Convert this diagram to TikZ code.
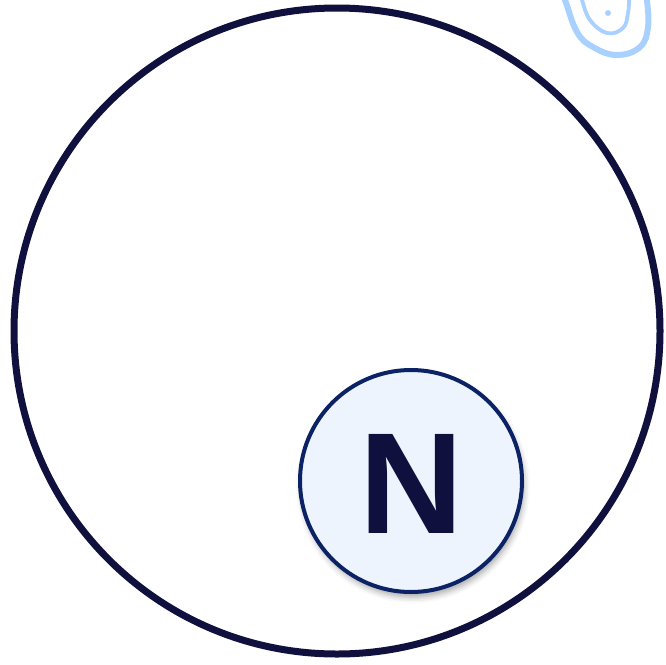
\documentclass[tikz,border=0pt]{standalone}
\usepackage{fontspec}
\setmainfont{Liberation Sans}
\usetikzlibrary{shadows.blur}
\definecolor{navy}{HTML}{10103F}
\definecolor{ringblue}{HTML}{0B2365}
\definecolor{paleblue}{HTML}{EDF4FD}
\definecolor{loopblue}{HTML}{A9D1FF}
\tikzset{
  bigring/.style={draw=navy, line width=7pt, circle, minimum size=646pt, inner sep=0pt},
  nbadge/.style={draw=ringblue, line width=4pt, fill=paleblue, circle, minimum size=222pt, inner sep=0pt,
    blur shadow={shadow xshift=2pt, shadow yshift=-5pt, shadow blur radius=6pt, shadow opacity=35}},
  loopline/.style={draw=loopblue, line cap=round}
}
\begin{document}
\begin{tikzpicture}[x=1pt, y=-1pt]
\useasboundingbox (0,0) rectangle (666,664);
\node[bigring] (outer) at (337,331) {};
\node[nbadge] (badge) at (411,481) {};
\node[text=navy, font=\fontsize{144}{144}\selectfont\bfseries, inner sep=0pt, anchor=center] (letter) at (411,483.5) {N};
\draw[loopline, line width=6pt] plot[smooth, tension=0.7] coordinates {(562,-4) (565,0) (577,32) (593,47) (617,55) (640,47) (648,27) (647,0) (646,-4)};
\draw[loopline, line width=3.8pt] plot[smooth, tension=0.7] coordinates {(581,-4) (582,0) (590,20) (607,33) (623,28) (628,13) (629,0) (629,-4)};
\fill[loopblue] (608,13) circle (3pt);
\end{tikzpicture}
\end{document}
